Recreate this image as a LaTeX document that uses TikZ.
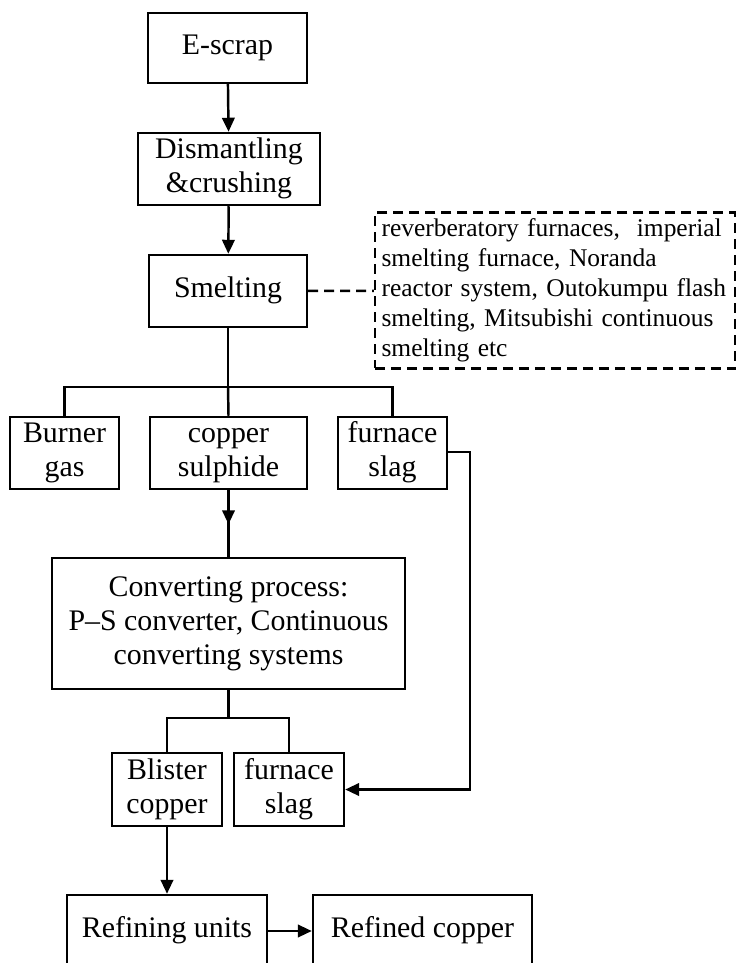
\documentclass[tikz,border=0pt]{standalone}
\usepackage{fontspec}
\setmainfont{Liberation Serif}
\usetikzlibrary{arrows.meta,positioning}

\begin{document}
\begin{tikzpicture}[
  x=0.02cm, y=-0.02cm,
  box/.style={draw, line width=1.4pt, inner sep=1pt, align=center, font=\fontsize{17}{19.5}\selectfont,
    execute at end node=\strut},
  arr/.style={-{Triangle[length=2.8mm, width=2.5mm]}, line width=1.4pt},
  link/.style={line width=1.4pt},
]
\useasboundingbox (0,0) rectangle (737,963);
\clip (0,0) rectangle (737,963);

\node[box, minimum width=3.18cm, minimum height=1.40cm] (escrap) at (227.5,48) {\strut E-scrap};
\node[box, minimum width=3.64cm, minimum height=1.44cm] (dism) at (229,169) {\strut Dismantling\\\&crushing};
\node[box, minimum width=3.16cm, minimum height=1.44cm] (smelt) at (228,291) {\strut Smelting};
\node[draw, line width=1.4pt, dash pattern=on 5.7pt off 3.4pt, minimum width=7.20cm, minimum height=2.98cm,
      text width=6.94cm, inner sep=0.13cm, align=left, font=\fontsize{14.5}{17}\selectfont] (note) at (555,290.5)
  {reverberatory furnaces,\ \ imperial\\smelting furnace, Noranda\\reactor system, Outokumpu flash\\smelting, Mitsubishi continuous\\smelting etc};

\node[box, minimum width=2.18cm, minimum height=1.40cm] (burner) at (64.5,453) {\strut Burner\\gas};
\node[box, minimum width=3.14cm, minimum height=1.40cm] (sulph) at (228.5,453) {\strut copper\\sulphide};
\node[box, minimum width=2.18cm, minimum height=1.40cm] (slagA) at (392.5,453) {\strut furnace\\slag};

\node[box, minimum width=7.06cm, minimum height=2.62cm] (conv) at (228.5,623.5) {\strut Converting process:\\P--S converter, Continuous\\converting systems};

\node[box, minimum width=2.20cm, minimum height=1.46cm] (blister) at (167,789.5) {\strut Blister\\copper};
\node[box, minimum width=2.20cm, minimum height=1.46cm] (slagB) at (289,789.5) {\strut furnace\\slag};

\node[box, minimum width=4.00cm, minimum height=1.44cm] (refine) at (167,931) {\strut Refining units};
\node[box, minimum width=4.38cm, minimum height=1.44cm] (refined) at (422.5,931) {\strut Refined copper};

% main line
\draw[arr] (escrap) -- (dism);
\draw[arr] (dism) -- (smelt);
\draw[link, dash pattern=on 5.7pt off 3.4pt] (smelt) -- (note);

% smelting products
\coordinate (splitA) at (228,387);
\draw[link] (smelt.south) -- (splitA);
\draw[link] (burner.north) |- (splitA) -| (slagA.north);
\draw[link] (splitA) -- (sulph.north);

\draw[link] (sulph.south) -- (conv.north);
\draw[arr] (sulph.south) -- ++(0,34);

% converting products
\coordinate (splitB) at (228.5,718);
\draw[link] (conv.south) -- (splitB);
\draw[link] (blister.north) |- (splitB) -| (slagB.north);

\coordinate (bend) at (470,452);
\draw[arr] (slagA.east |- bend) -- (bend) |- (slagB.east);

\draw[arr] (blister) -- (refine);
\draw[arr] (refine) -- (refined);
\end{tikzpicture}
\end{document}
